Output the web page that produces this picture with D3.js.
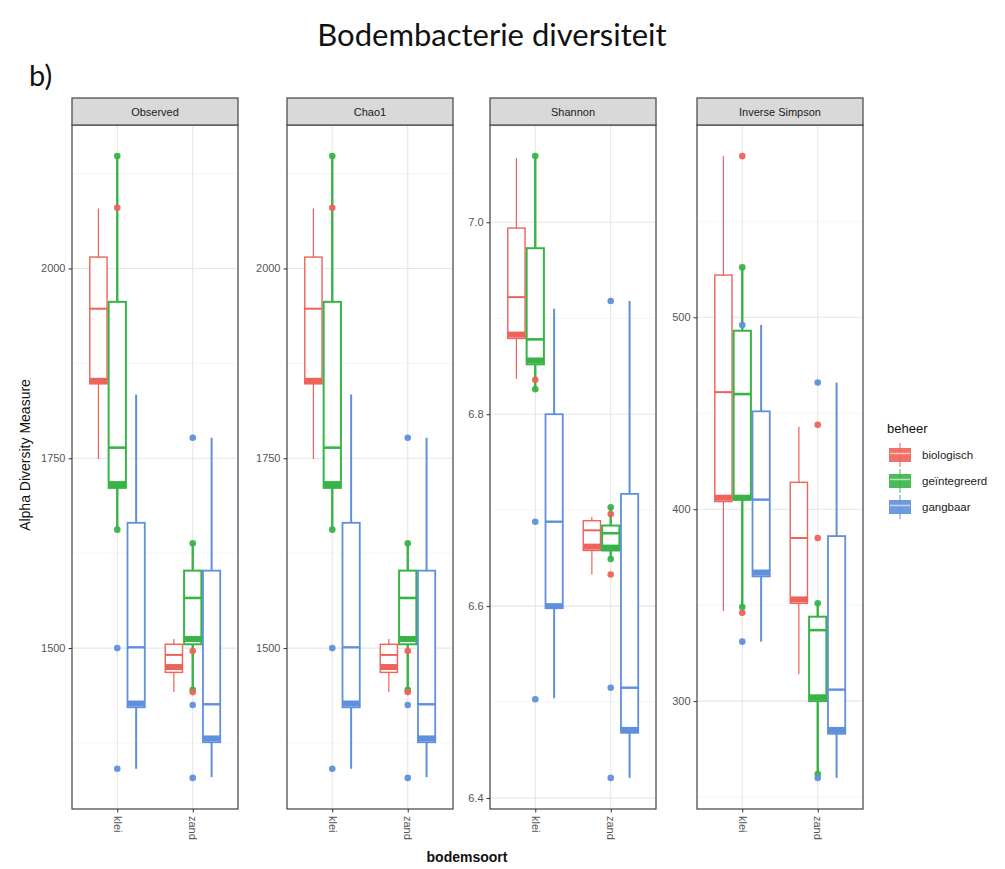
<!DOCTYPE html>
<html>
<head>
<meta charset="utf-8">
<script src="https://cdn.jsdelivr.net/npm/d3@7"></script>
<style>
  body { margin: 0; background: #fff; }
  svg { display: block; }
</style>
</head>
<body>
<svg id="chart" width="1005" height="869"></svg>
<script>
// ---- data ----
const bodemsoort = ["klei", "zand"];
const beheer = ["biologisch", "geïntegreerd", "gangbaar"];
const beheerColors = ["#EE6259", "#38B447", "#5F8FDD"];
const measures = ["Observed", "Chao1", "Shannon", "Inverse Simpson"];

// box rows: [bodemsoort, beheer, lower whisker, Q1, median, Q3, upper whisker, dense band]
const observedBoxes = [
  ["klei", "biologisch",   1749, 1848, 1947, 2015, 2079, 1852],
  ["klei", "geïntegreerd", 1656, 1711, 1764, 1956, 2148, 1716],
  ["klei", "gangbaar",     1341, 1422, 1501, 1665, 1834, 1427],
  ["zand", "biologisch",   1442, 1468, 1491, 1505, 1512, 1475],
  ["zand", "geïntegreerd", 1445, 1505, 1566, 1602, 1638, 1512],
  ["zand", "gangbaar",     1330, 1376, 1426, 1602, 1777, 1381]
];
const observedPoints = [
  ["klei", "geïntegreerd", 2148], ["klei", "biologisch", 2080], ["klei", "geïntegreerd", 1656],
  ["klei", "gangbaar", 1500], ["klei", "gangbaar", 1341],
  ["zand", "gangbaar", 1777], ["zand", "geïntegreerd", 1638], ["zand", "biologisch", 1496],
  ["zand", "geïntegreerd", 1445], ["zand", "biologisch", 1442], ["zand", "gangbaar", 1425],
  ["zand", "gangbaar", 1329]
];
const observedTicks = [1500, 1750, 2000];

const chao1Boxes = [
  ["klei", "biologisch",   1749, 1848, 1947, 2015, 2079, 1852],
  ["klei", "geïntegreerd", 1656, 1711, 1764, 1956, 2148, 1716],
  ["klei", "gangbaar",     1341, 1422, 1501, 1665, 1834, 1427],
  ["zand", "biologisch",   1442, 1468, 1491, 1505, 1512, 1475],
  ["zand", "geïntegreerd", 1445, 1505, 1566, 1602, 1638, 1512],
  ["zand", "gangbaar",     1330, 1376, 1426, 1602, 1777, 1381]
];
const chao1Points = [
  ["klei", "geïntegreerd", 2148], ["klei", "biologisch", 2080], ["klei", "geïntegreerd", 1656],
  ["klei", "gangbaar", 1500], ["klei", "gangbaar", 1341],
  ["zand", "gangbaar", 1777], ["zand", "geïntegreerd", 1638], ["zand", "biologisch", 1496],
  ["zand", "geïntegreerd", 1445], ["zand", "biologisch", 1442], ["zand", "gangbaar", 1425],
  ["zand", "gangbaar", 1329]
];
const chao1Ticks = [1500, 1750, 2000];

const shannonBoxes = [
  ["klei", "biologisch",   6.837, 6.879, 6.922, 6.994, 7.067, 6.883],
  ["klei", "geïntegreerd", 6.826, 6.852, 6.878, 6.973, 7.069, 6.856],
  ["klei", "gangbaar",     6.504, 6.598, 6.688, 6.800, 6.910, 6.600],
  ["zand", "biologisch",   6.633, 6.658, 6.679, 6.689, 6.693, 6.662],
  ["zand", "geïntegreerd", 6.649, 6.658, 6.676, 6.684, 6.703, 6.661],
  ["zand", "gangbaar",     6.421, 6.468, 6.515, 6.717, 6.918, 6.471]
];
const shannonPoints = [
  ["klei", "geïntegreerd", 7.069], ["klei", "biologisch", 6.836], ["klei", "geïntegreerd", 6.826],
  ["klei", "gangbaar", 6.688], ["klei", "gangbaar", 6.503],
  ["zand", "gangbaar", 6.918], ["zand", "geïntegreerd", 6.703], ["zand", "biologisch", 6.696],
  ["zand", "geïntegreerd", 6.649], ["zand", "biologisch", 6.633], ["zand", "gangbaar", 6.515],
  ["zand", "gangbaar", 6.421]
];
const shannonTicks = [6.4, 6.6, 6.8, 7.0];

const invSimpsonBoxes = [
  ["klei", "biologisch",   347, 404, 461, 522, 584, 406],
  ["klei", "geïntegreerd", 349, 405, 460, 493, 526, 406],
  ["klei", "gangbaar",     331, 365, 405, 451, 496, 367],
  ["zand", "biologisch",   314, 351, 385, 414, 443, 353],
  ["zand", "geïntegreerd", 262, 300, 337, 344, 351, 302],
  ["zand", "gangbaar",     260, 283, 306, 386, 466, 285]
];
const invSimpsonPoints = [
  ["klei", "biologisch", 584], ["klei", "geïntegreerd", 526], ["klei", "gangbaar", 496],
  ["klei", "geïntegreerd", 349], ["klei", "biologisch", 346], ["klei", "gangbaar", 331],
  ["zand", "gangbaar", 466], ["zand", "biologisch", 444], ["zand", "biologisch", 385],
  ["zand", "geïntegreerd", 351], ["zand", "geïntegreerd", 262], ["zand", "gangbaar", 260]
];
const invSimpsonTicks = [300, 400, 500];

const panels = [
  { name: measures[0], boxes: observedBoxes,   points: observedPoints,   ticks: observedTicks,   fmt: d3.format("d") },
  { name: measures[1], boxes: chao1Boxes,      points: chao1Points,      ticks: chao1Ticks,      fmt: d3.format("d") },
  { name: measures[2], boxes: shannonBoxes,    points: shannonPoints,    ticks: shannonTicks,    fmt: d3.format(".1f") },
  { name: measures[3], boxes: invSimpsonBoxes, points: invSimpsonPoints, ticks: invSimpsonTicks, fmt: d3.format("d") }
];

// ---- layout ----
const svg = d3.select("#chart");
const panelLefts = [72, 287, 490, 697];
const panelW = 166;
const stripTop = 98, stripH = 27;
const plotTop = stripTop + stripH, plotBottom = 809;
const color = d3.scaleOrdinal().domain(beheer).range(beheerColors);
const whiskerW = { "biologisch": 1.2, "geïntegreerd": 2.4, "gangbaar": 2.0 };
const boxW = { "biologisch": 1.4, "geïntegreerd": 2.0, "gangbaar": 1.8 };
const labelFont = "'Liberation Sans', Arial, sans-serif";

svg.append("text")
  .attr("x", 492).attr("y", 46)
  .attr("text-anchor", "middle")
  .style("font-family", "Lato, 'Open Sans', sans-serif")
  .style("font-size", "31px")
  .attr("fill", "#111")
  .text("Bodembacterie diversiteit");

svg.append("text")
  .attr("x", 29).attr("y", 86)
  .style("font-family", "Lato, 'Open Sans', sans-serif")
  .style("font-size", "29px")
  .attr("fill", "#111")
  .text("b)");

panels.forEach((p, i) => {
  const left = panelLefts[i];
  const g = svg.append("g");

  // y domain from data range with 5% expansion
  const vals = p.boxes.flatMap(b => b.slice(2, 7)).concat(p.points.map(d => d[2]));
  const [lo, hi] = d3.extent(vals);
  const pad = (hi - lo) * 0.05;
  const y = d3.scaleLinear().domain([lo - pad, hi + pad]).range([plotBottom, plotTop]);

  // discrete x with 0.6 expansion each side
  const x = d3.scalePoint().domain(bodemsoort).range([left, left + panelW]).padding(0.6);
  const step = x.step();
  const dodge = d3.scaleBand().domain(beheer).range([-step * 0.375, step * 0.375]);

  // background + grid
  g.append("rect").attr("x", left).attr("y", plotTop).attr("width", panelW)
    .attr("height", plotBottom - plotTop).attr("fill", "#fff");

  const minor = p.ticks.slice(0, -1).map((t, k) => (t + p.ticks[k + 1]) / 2);
  const stepT = p.ticks[1] - p.ticks[0];
  minor.unshift(p.ticks[0] - stepT / 2);
  minor.push(p.ticks[p.ticks.length - 1] + stepT / 2);
  g.selectAll(".minor").data(minor.filter(v => y(v) > plotTop && y(v) < plotBottom)).join("line")
    .attr("x1", left).attr("x2", left + panelW)
    .attr("y1", d => y(d)).attr("y2", d => y(d))
    .attr("stroke", "#f2f2f2").attr("stroke-width", 0.8);
  g.selectAll(".major").data(p.ticks).join("line")
    .attr("x1", left).attr("x2", left + panelW)
    .attr("y1", d => y(d)).attr("y2", d => y(d))
    .attr("stroke", "#e6e6e6").attr("stroke-width", 1.1);
  g.selectAll(".vmajor").data(bodemsoort).join("line")
    .attr("x1", d => x(d)).attr("x2", d => x(d))
    .attr("y1", plotTop).attr("y2", plotBottom)
    .attr("stroke", "#e6e6e6").attr("stroke-width", 1.1);

  // boxes
  const boxG = g.selectAll(".box").data(p.boxes).join("g");
  const bw = dodge.bandwidth();
  const cx = d => x(d[0]) + dodge(d[1]) + bw / 2;

  boxG.append("line")
    .attr("x1", cx).attr("x2", cx)
    .attr("y1", d => y(d[6])).attr("y2", d => y(d[5]))
    .attr("stroke", d => color(d[1])).attr("stroke-width", d => whiskerW[d[1]]);
  boxG.append("line")
    .attr("x1", cx).attr("x2", cx)
    .attr("y1", d => y(d[3])).attr("y2", d => y(d[2]))
    .attr("stroke", d => color(d[1])).attr("stroke-width", d => whiskerW[d[1]]);
  boxG.append("rect")
    .attr("x", d => cx(d) - bw / 2 + 0.8).attr("width", bw - 1.6)
    .attr("y", d => y(d[5])).attr("height", d => y(d[3]) - y(d[5]))
    .attr("fill", "#fff")
    .attr("stroke", d => color(d[1])).attr("stroke-width", d => boxW[d[1]]);
  boxG.append("line")
    .attr("x1", d => cx(d) - bw / 2 + 0.8).attr("x2", d => cx(d) + bw / 2 - 0.8)
    .attr("y1", d => y(d[4])).attr("y2", d => y(d[4]))
    .attr("stroke", d => color(d[1])).attr("stroke-width", d => boxW[d[1]] + 0.6);
  boxG.append("rect")
    .attr("x", d => cx(d) - bw / 2 + 0.8).attr("width", bw - 1.6)
    .attr("y", d => y(d[7]) - 3).attr("height", 6)
    .attr("fill", d => color(d[1]));

  // points at the soil-type centre
  g.selectAll(".pt").data(p.points).join("circle")
    .attr("cx", d => x(d[0])).attr("cy", d => y(d[2])).attr("r", 3.3)
    .attr("fill", d => color(d[1])).attr("fill-opacity", 0.95);

  // panel border
  g.append("rect").attr("x", left).attr("y", plotTop).attr("width", panelW)
    .attr("height", plotBottom - plotTop)
    .attr("fill", "none").attr("stroke", "#505050").attr("stroke-width", 1.3);

  // strip
  g.append("rect").attr("x", left).attr("y", stripTop).attr("width", panelW).attr("height", stripH)
    .attr("fill", "#d9d9d9").attr("stroke", "#505050").attr("stroke-width", 1.3);
  g.append("text").attr("x", left + panelW / 2).attr("y", stripTop + stripH / 2 + 4)
    .attr("text-anchor", "middle")
    .style("font-family", labelFont).style("font-size", "11px")
    .attr("fill", "#1a1a1a").text(p.name);

  // y axis
  const yAxis = g.append("g").attr("transform", `translate(${left},0)`)
    .call(d3.axisLeft(y).tickValues(p.ticks).tickFormat(p.fmt).tickSize(3.5).tickPadding(3));
  yAxis.select(".domain").remove();
  yAxis.selectAll(".tick line").attr("stroke", "#333").attr("stroke-width", 1);
  yAxis.selectAll(".tick text").attr("fill", "#555")
    .style("font-family", labelFont).style("font-size", "11px");

  // x axis with labels turned to read downward
  const xAxis = g.append("g").attr("transform", `translate(0,${plotBottom})`)
    .call(d3.axisBottom(x).tickSize(3.5).tickPadding(3));
  xAxis.select(".domain").remove();
  xAxis.selectAll(".tick line").attr("stroke", "#333").attr("stroke-width", 1);
  xAxis.selectAll(".tick text")
    .attr("fill", "#555")
    .style("font-family", labelFont).style("font-size", "11px")
    .attr("transform", "rotate(90)")
    .attr("x", 7).attr("y", 0).attr("dy", "0.35em")
    .attr("text-anchor", "start");
});

// axis titles
svg.append("text")
  .attr("transform", "translate(30,455) rotate(-90)")
  .attr("text-anchor", "middle")
  .style("font-family", labelFont).style("font-size", "14px")
  .attr("fill", "#111")
  .text("Alpha Diversity Measure");

svg.append("text")
  .attr("x", 467).attr("y", 862)
  .attr("text-anchor", "middle")
  .style("font-family", labelFont).style("font-size", "14px").style("font-weight", "bold")
  .attr("fill", "#111")
  .text("bodemsoort");

// legend
const legend = svg.append("g").attr("transform", "translate(887,0)");
legend.append("text").attr("x", 0).attr("y", 433)
  .style("font-family", labelFont).style("font-size", "13px")
  .attr("fill", "#111").text("beheer");
const keyY = d3.scalePoint().domain(beheer).range([455, 507]);
const keys = legend.selectAll(".key").data(beheer).join("g")
  .attr("transform", d => `translate(0,${keyY(d)})`);
keys.append("line").attr("x1", 13).attr("x2", 13).attr("y1", -12).attr("y2", 12)
  .attr("stroke", d => color(d)).attr("stroke-width", 1);
keys.append("rect").attr("x", 2).attr("y", -7).attr("width", 22).attr("height", 14)
  .attr("fill", d => color(d)).attr("fill-opacity", 0.9);
keys.append("line").attr("x1", 3).attr("x2", 23).attr("y1", -1.5).attr("y2", -1.5)
  .attr("stroke", "#fff").attr("stroke-opacity", 0.6).attr("stroke-width", 1.5);
keys.append("text").attr("x", 35).attr("y", 4)
  .style("font-family", labelFont).style("font-size", "11.5px")
  .attr("fill", "#222").text(d => d);
</script>
</body>
</html>
